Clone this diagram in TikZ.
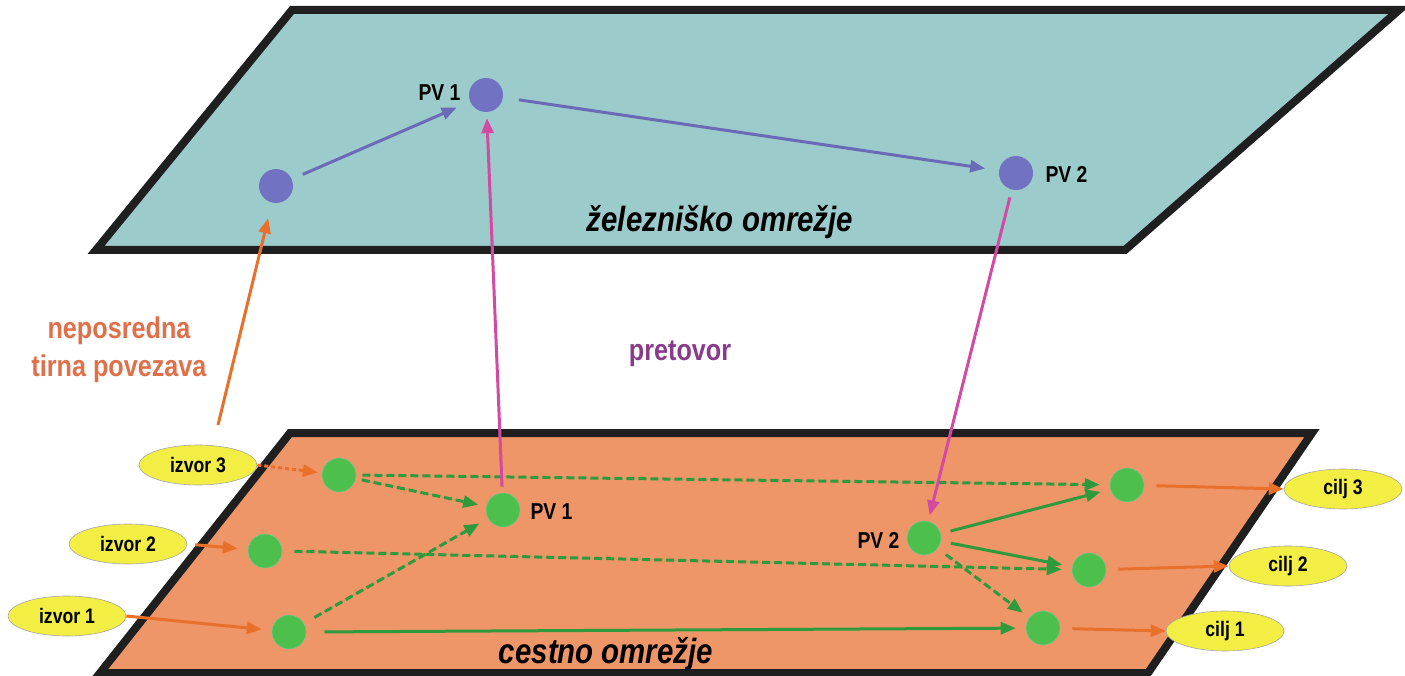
\documentclass[tikz,border=0pt]{standalone}
\usepackage{fontspec}
\setmainfont[FakeStretch=0.84]{Liberation Sans}
\usetikzlibrary{arrows.meta,shapes.geometric}
\definecolor{railfill}{HTML}{9CCBCC}
\definecolor{roadfill}{HTML}{EE9668}
\definecolor{railnode}{HTML}{7272C2}
\definecolor{railline}{HTML}{6A6AB6}
\definecolor{roadnode}{HTML}{4CBF4C}
\definecolor{roadline}{HTML}{2E9A3C}
\definecolor{linkorange}{HTML}{E8702A}
\definecolor{transfer}{HTML}{D24AA2}
\definecolor{labelorange}{HTML}{E0704A}
\definecolor{labelpurple}{HTML}{8A3A8A}
\definecolor{ovalfill}{HTML}{F2EE44}
\tikzset{
  plane/.style={line width=8pt, line join=miter, draw=black!88},
  rnode/.style={circle, fill=railnode, minimum size=34pt, inner sep=0pt},
  gnode/.style={circle, fill=roadnode, draw=roadline!60, line width=0.6pt, minimum size=34pt, inner sep=0pt},
  oval/.style={ellipse, fill=ovalfill, draw=black!35, line width=0.6pt, minimum width=118pt, minimum height=40pt, inner sep=0pt, font=\fontsize{21}{21}\selectfont\bfseries},
  tip/.style={-{Triangle[length=15pt,width=12pt]}},
  railarrow/.style={tip, draw=railline, fill=railline, line width=3pt},
  transferarrow/.style={tip, draw=transfer, fill=transfer, line width=3pt},
  linkarrow/.style={tip, draw=linkorange, fill=linkorange, line width=3pt},
  roadarrow/.style={tip, draw=roadline, fill=roadline, line width=3pt},
  roaddash/.style={roadarrow, dash pattern=on 8pt off 4pt},
  pvlabel/.style={font=\fontsize{23}{23}\selectfont\bfseries},
  planelabel/.style={font=\fontsize{35}{35}\selectfont\bfseries\itshape},
}
\begin{document}
\begin{tikzpicture}[x=1pt, y=-1pt]
\useasboundingbox (0,0) rectangle (1405,676);
\begin{scope}
\clip (0,0) rectangle (1405,676);
% railway network plane
\draw[plane, fill=railfill] (292,10) -- (1399,10) -- (1125,250) -- (96,250) -- cycle;
% road network plane
\draw[plane, fill=roadfill] (290,433) -- (1312,433) -- (1148,673) -- (100,673) -- cycle;
\end{scope}

\node[planelabel, anchor=base] (railname) at (720,232) {železniško omrežje};
\node[planelabel, anchor=base] (roadname) at (606,663) {cestno omrežje};

% railway nodes
\node[rnode] (r0) at (276,186) {};
\node[rnode] (rpv1) at (486,95) {};
\node[rnode] (rpv2) at (1016,173) {};
\node[pvlabel, anchor=east] (rpv1lab) at (464,93) {PV 1};
\node[pvlabel, anchor=west] (rpv2lab) at (1042,174) {PV 2};

\draw[railarrow, shorten <=12pt, shorten >=8pt] (r0) -- (rpv1lab.south east);
\draw[railarrow, shorten <=16pt, shorten >=14pt] (rpv1) -- (rpv2);

% road nodes
\node[gnode] (g3) at (339,475) {};
\node[gnode] (g2) at (265,551) {};
\node[gnode] (g1) at (289,632) {};
\node[gnode] (pv1) at (503,510) {};
\node[gnode] (pv2) at (924,538) {};
\node[gnode] (d3) at (1127,485) {};
\node[gnode] (d2) at (1089,570) {};
\node[gnode] (d1) at (1043,628) {};
\node[pvlabel, anchor=west] (pv1lab) at (527,512) {PV 1};
\node[pvlabel, anchor=east] (pv2lab) at (903,540) {PV 2};

% sources and destinations
\node[oval] (i3) at (198,465) {izvor 3};
\node[oval] (i2) at (128,544) {izvor 2};
\node[oval] (i1) at (67,616) {izvor 1};
\node[oval] (c3) at (1343,489) {cilj 3};
\node[oval] (c2) at (1288,566) {cilj 2};
\node[oval] (c1) at (1225,631) {cilj 1};

% access links
\draw[linkarrow, dash pattern=on 4pt off 3pt, shorten >=4pt] (i3.east) -- (g3);
\draw[linkarrow, shorten <=8pt, shorten >=10pt] (i2.east) -- (g2);
\draw[linkarrow, shorten >=10pt] (i1.east) -- (g1);
\draw[linkarrow, shorten <=12pt] (d3) -- (c3.west);
\draw[linkarrow, shorten <=12pt] (d2) -- (c2.west);
\draw[linkarrow, shorten <=12pt] (d1) -- (c1.west);

% road links
\draw[roaddash, shorten <=6pt, shorten >=8pt] (g3) -- (pv1);
\draw[roaddash, shorten <=6pt, shorten >=10pt] (g3.east) -- (d3);
\draw[roaddash, shorten <=12pt, shorten >=10pt] (g2.east) -- (d2);
\draw[roaddash, shorten <=12pt, shorten >=10pt] (g1) -- (pv1);
\draw[roadarrow, shorten <=18pt, shorten >=10pt] (g1.east) -- (d1);
\draw[roadarrow, shorten <=10pt, shorten >=10pt] (pv2) -- (d3);
\draw[roadarrow, shorten <=10pt, shorten >=10pt] (pv2) -- (d2);
\draw[roaddash, shorten <=10pt, shorten >=8pt] (pv2) -- (d1);

% transshipment between networks
\draw[transferarrow, shorten <=6pt, shorten >=6pt] (pv1) -- (rpv1);
\draw[transferarrow, shorten <=8pt, shorten >=6pt] (rpv2) -- (pv2);

% direct rail siding
\coordinate (sidingfoot) at (218,425);
\draw[linkarrow, shorten >=16pt] (sidingfoot) -- (r0);

\node[font=\fontsize{30}{38}\selectfont\bfseries, text=labelorange, align=center] (siding) at (119,350) {neposredna\\tirna povezava};
\node[font=\fontsize{30}{30}\selectfont\bfseries, text=labelpurple] (pretovor) at (680,354) {pretovor};
\end{tikzpicture}
\end{document}
